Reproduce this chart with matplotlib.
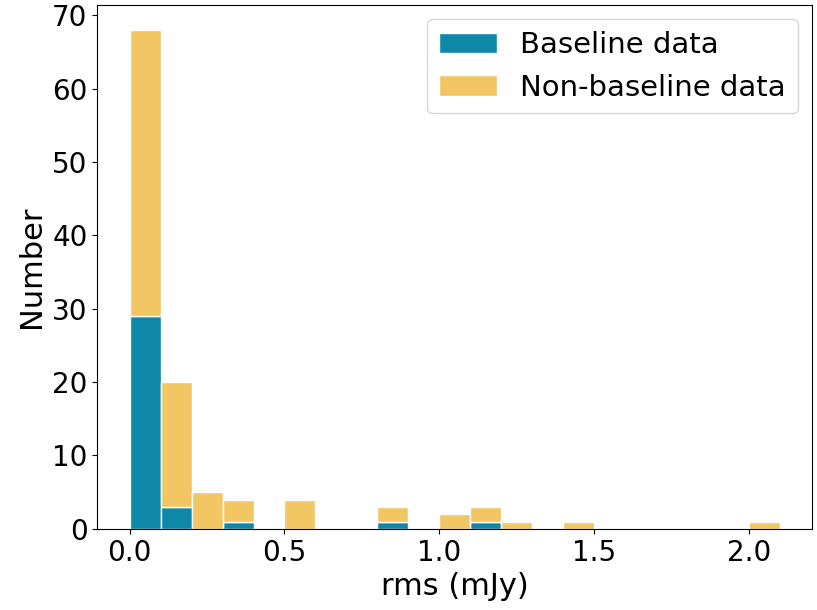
import numpy as np
import matplotlib.pyplot as plt

# bin edges of the rms histogram (mJy), width 0.1
bin_left = np.round(np.arange(0.0, 2.1, 0.1), 2)
# counts per bin
baseline = [29, 3, 0, 1, 0, 0, 0, 0, 1, 0, 0, 1, 0, 0, 0, 0, 0, 0, 0, 0, 0]
total = [68, 20, 5, 4, 0, 4, 0, 0, 3, 0, 2, 3, 1, 0, 1, 0, 0, 0, 0, 0, 1]
non_baseline = [t - b for t, b in zip(total, baseline)]

fig = plt.figure(figsize=(8.17, 6.10), dpi=100)
ax = fig.add_axes([0.119, 0.133, 0.875, 0.859])

ax.bar(bin_left, baseline, width=0.1, align='edge', color='#0e87a9',
       edgecolor='white', linewidth=1, label='Baseline data')
ax.bar(bin_left, non_baseline, width=0.1, align='edge', bottom=baseline,
       color='#f2c662', edgecolor='white', linewidth=1, label='Non-baseline data')

ax.set_xlabel('rms (mJy)', fontsize=22)
ax.set_ylabel('Number', fontsize=22)
ax.tick_params(labelsize=20)
ax.set_xticks([0.0, 0.5, 1.0, 1.5, 2.0])
ax.legend(fontsize=21, loc='upper right')

plt.savefig('out.png')
